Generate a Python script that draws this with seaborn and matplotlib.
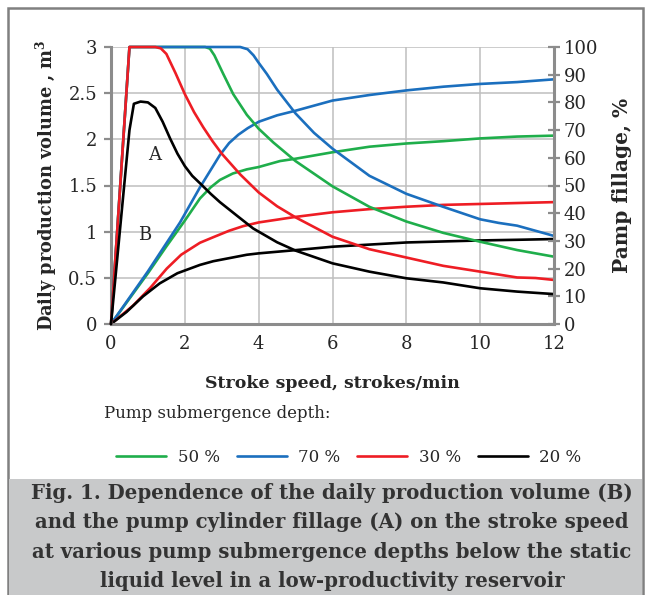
import matplotlib
matplotlib.use('Agg')
import matplotlib.pyplot as plt
import matplotlib.patches as mpatches
import seaborn as sns

# Colours and labels of the four submergence depths
depths = ['50 %', '70 %', '30 %', '20 %']
colors = ['#1fae4b', '#1b6fbe', '#ee1d24', '#000000']

# Curves "A": pump cylinder fillage, % (right axis)
a_x_50 = [0, 0.5, 1.5, 2.55, 2.68, 2.8, 3.04, 3.31, 3.68, 4.0, 4.4, 5, 6, 7, 8, 9, 10, 11, 12]
a_y_50 = [0, 100, 100, 100, 99.4, 97, 90.3, 83, 75.5, 70.5, 65.5, 58.8, 49.7, 42.3, 37, 32.9, 29.7, 26.7, 24.3]
a_x_70 = [0, 0.5, 2.0, 3.5, 3.7, 3.86, 4.0, 4.22, 4.5, 5, 5.5, 6, 7, 8, 9, 10, 10.5, 11, 12]
a_y_70 = [0, 100, 100, 100, 99.2, 97, 94.3, 90.3, 84.6, 76, 69, 63.3, 53.5, 47, 42.3, 37.8, 36.5, 35.5, 31.8]
a_x_30 = [0, 0.5, 1.2, 1.35, 1.5, 1.75, 2.0, 2.25, 2.5, 2.75, 3.0, 3.5, 4.0, 4.5, 5, 6, 7, 8, 9, 10, 11, 11.5, 12]
a_y_30 = [0, 100, 100, 99.5, 97.5, 90.5, 83, 76.5, 71, 66, 61.5, 54, 47.5, 42.5, 38.5, 31.5, 27, 24, 21, 18.9, 16.8, 16.6, 15.9]
a_x_20 = [0, 0.5, 0.62, 0.8, 1.0, 1.2, 1.4, 1.6, 1.8, 2.0, 2.2, 2.45, 2.7, 2.95, 3.45, 3.85, 4.5, 5, 6, 7, 8, 9, 10, 11, 12]
a_y_20 = [0, 70, 79.5, 80.3, 80, 78, 73, 67, 61.5, 57, 53.5, 50.3, 47, 44, 38.7, 34.5, 29.5, 26.5, 21.9, 18.9, 16.5, 15, 12.9, 11.7, 10.8]

# Curves "B": daily production volume, m3 (left axis)
b_x_50 = [0, 1, 1.5, 2.0, 2.41, 2.7, 2.95, 3.3, 3.68, 4, 4.58, 5, 6, 7, 8, 9, 10, 11, 12]
b_y_50 = [0, 0.55, 0.84, 1.12, 1.36, 1.48, 1.56, 1.63, 1.675, 1.70, 1.765, 1.79, 1.86, 1.92, 1.955, 1.98, 2.01, 2.03, 2.04]
b_x_70 = [0, 1, 1.87, 2.41, 2.95, 3.2, 3.45, 3.7, 4, 4.5, 5, 6, 7, 8, 9, 10, 11, 12]
b_y_70 = [0, 0.57, 1.1, 1.48, 1.83, 1.96, 2.05, 2.12, 2.19, 2.26, 2.31, 2.42, 2.48, 2.53, 2.57, 2.60, 2.62, 2.65]
b_x_30 = [0, 0.6, 1.06, 1.51, 1.9, 2.41, 2.77, 3.2, 3.58, 4, 5, 6, 7, 8, 9, 10, 11, 12]
b_y_30 = [0, 0.2, 0.39, 0.60, 0.75, 0.88, 0.94, 1.01, 1.06, 1.10, 1.16, 1.21, 1.244, 1.27, 1.29, 1.30, 1.31, 1.32]
b_x_20 = [0, 0.42, 0.87, 1.32, 1.8, 2.41, 2.77, 3.68, 4, 5, 6, 7, 8, 9, 10, 11, 12]
b_y_20 = [0, 0.13, 0.30, 0.44, 0.55, 0.64, 0.68, 0.75, 0.765, 0.80, 0.837, 0.86, 0.883, 0.894, 0.905, 0.912, 0.92]

a_series = [(a_x_50, a_y_50), (a_x_70, a_y_70), (a_x_30, a_y_30), (a_x_20, a_y_20)]
b_series = [(b_x_50, b_y_50), (b_x_70, b_y_70), (b_x_30, b_y_30), (b_x_20, b_y_20)]

x_ticks = [0, 2, 4, 6, 8, 10, 12]
left_ticks = [0, 0.5, 1, 1.5, 2, 2.5, 3]
left_labels = ['0', '0.5', '1', '1.5', '2', '2.5', '3']
right_ticks = list(range(0, 101, 10))

caption = ('Fig. 1. Dependence of the daily production volume (B)\n'
           'and the pump cylinder fillage (A) on the stroke speed\n'
           'at various pump submergence depths below the static\n'
           'liquid level in a low-productivity reservoir')

sns.set_style('white')
plt.rcParams['font.family'] = ['DejaVu Serif']
plt.rcParams['mathtext.fontset'] = 'dejavuserif'

W, H = 650, 595
fig = plt.figure(figsize=(6.5, 5.95), dpi=100)

# outer frame and caption box
fig.add_artist(mpatches.Rectangle((8 / W, -0.05), 635 / W, 1.05 - 8 / H,
                                  transform=fig.transFigure, fill=False,
                                  edgecolor='#808080', lw=1.8))
fig.add_artist(mpatches.Rectangle((9 / W, 0), 633 / W, 1 - 479 / H,
                                  transform=fig.transFigure,
                                  facecolor='#c8c9ca', edgecolor='none'))

ax = fig.add_axes([111 / W, 1 - 324 / H, (554 - 111) / W, (324 - 47) / H])
ax2 = ax.twinx()

for (x, y), c in zip(b_series, colors):
  sns.lineplot(x=x, y=y, ax=ax, color=c, lw=1.9, clip_on=False)
for (x, y), c in zip(a_series, colors):
  sns.lineplot(x=x, y=y, ax=ax2, color=c, lw=1.9, clip_on=False)

ax.set_xlim(0, 12)
ax.set_ylim(0, 3)
ax2.set_ylim(0, 100)
ax.set_xticks(x_ticks)
ax.set_yticks(left_ticks)
ax.set_yticklabels(left_labels)
ax2.set_yticks(right_ticks)

ax.grid(True, color='#bfbfbf', lw=1.1)
ax.set_axisbelow(True)
for a in (ax, ax2):
  for s in a.spines.values():
    s.set_visible(False)
ax.spines['left'].set_visible(True)
ax.spines['bottom'].set_visible(True)
ax2.spines['right'].set_visible(True)
for s in (ax.spines['left'], ax.spines['bottom'], ax2.spines['right']):
  s.set_color('#8c8c8c')
  s.set_linewidth(2.2)

ax.tick_params(axis='both', direction='out', length=5, width=1.6,
               color='#8c8c8c', labelsize=13, pad=3)
ax.tick_params(axis='y', pad=5)
ax2.tick_params(axis='y', direction='inout', length=8, width=1.6,
                color='#8c8c8c', labelsize=13, pad=3)

ax.set_xlabel('Stroke speed, strokes/min', fontsize=12.5, fontweight='bold',
              labelpad=16)
ax.set_ylabel(r'Daily production volume , m$\mathbf{^3}$', fontsize=12.8,
              fontweight='bold', labelpad=7)
ax2.set_ylabel('Pamp fillage, %', fontsize=14.5, fontweight='bold',
               labelpad=10)

ax.text(1.19, 1.83, 'A', fontsize=13, ha='center', va='center')
ax.text(0.92, 0.96, 'B', fontsize=13, ha='center', va='center')

fig.text(104 / W, 1 - 413 / H, 'Pump submergence depth:', fontsize=12,
         ha='left', va='center')
fig.legend(handles=ax.get_lines()[:4], labels=depths, ncol=4, frameon=False,
           loc='center', bbox_to_anchor=(349 / W, 1 - 457 / H), fontsize=12,
           handlelength=3.0, columnspacing=1.0, handletextpad=0.7)

fig.text(332 / W, 1 - 537 / H, caption, fontsize=14.2, fontweight='bold',
         color='#333333', ha='center', va='center', linespacing=1.6)

fig.savefig('out.png', dpi=100)
